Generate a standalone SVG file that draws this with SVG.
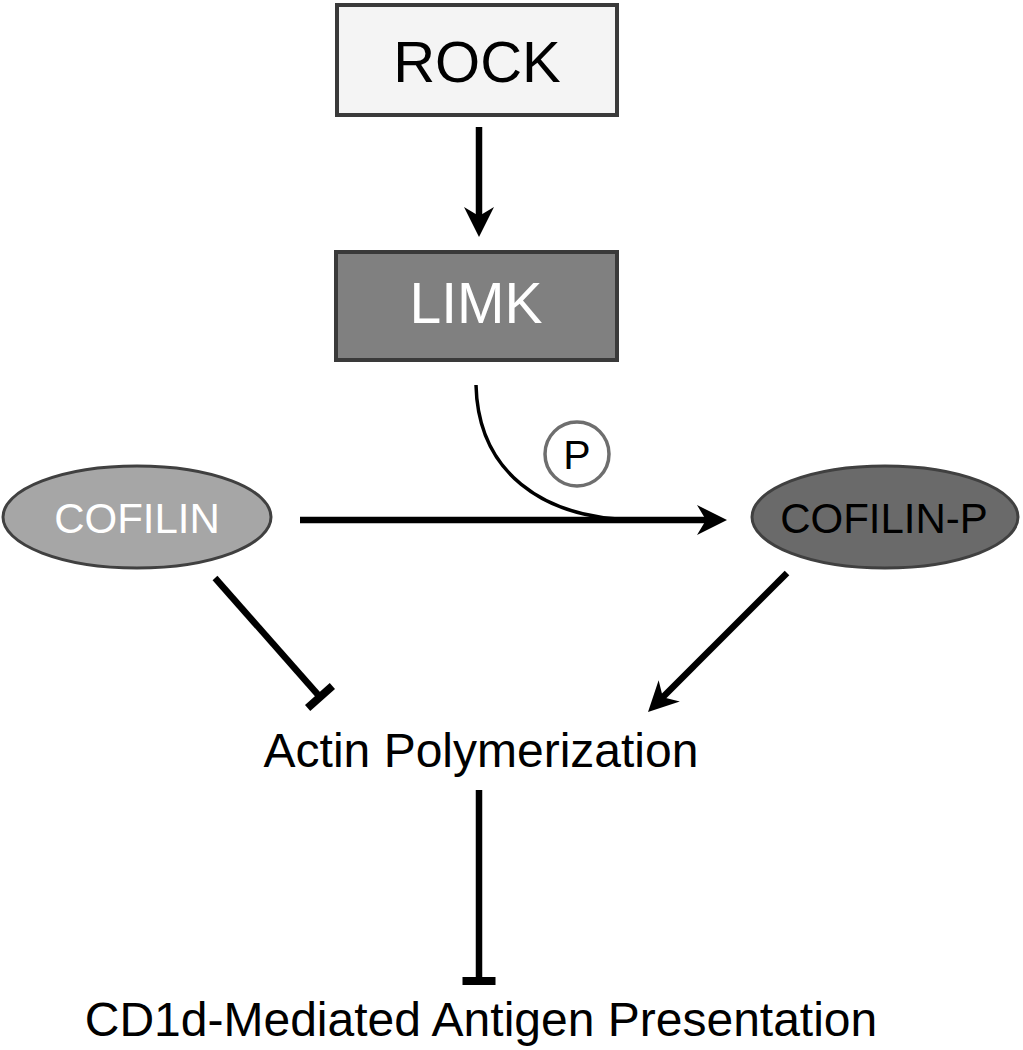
<svg xmlns="http://www.w3.org/2000/svg" width="1023" height="1050" viewBox="0 0 1023 1050">
<style>
  text { font-family: "Liberation Sans", Arial, sans-serif; text-anchor: middle; }
  .box { stroke: #3a3a3a; stroke-width: 4; }
  .ell { stroke: #404040; stroke-width: 3; }
  .edge { stroke: #000; stroke-width: 6.5; fill: none; }
</style>
<defs>
  <marker id="arr" viewBox="-32 -16 32 32" refX="-12" refY="0" markerWidth="32" markerHeight="32" markerUnits="userSpaceOnUse" orient="auto">
    <path d="M0,0 L-30,-15 L-21,0 L-30,15 Z" fill="#000"/>
  </marker>
  <marker id="tee" viewBox="-10 -20 20 40" refX="0" refY="0" markerWidth="20" markerHeight="40" markerUnits="userSpaceOnUse" orient="auto">
    <rect x="-4" y="-16.5" width="8" height="33" fill="#000"/>
  </marker>
</defs>
<rect width="1023" height="1050" fill="#fff"/>
<g id="connectors">
  <line class="edge" x1="479" y1="127" x2="479" y2="225" marker-end="url(#arr)"/>
  <line class="edge" x1="300" y1="520" x2="715" y2="520" marker-end="url(#arr)"/>
  <path d="M476,385 C478,470 540,520 640,520" stroke="#000" stroke-width="3.5" fill="none"/>
  <line class="edge" x1="215" y1="578" x2="320" y2="697" marker-end="url(#tee)"/>
  <line class="edge" x1="787" y1="573" x2="656.5" y2="703.5" marker-end="url(#arr)"/>
  <line class="edge" stroke-width="7" x1="479" y1="790" x2="479" y2="981" marker-end="url(#tee)"/>
</g>
<g id="rock">
  <rect class="box" x="337" y="5" width="280" height="110" fill="#f4f4f4"/>
  <text x="477" y="82" font-size="58" fill="#000">ROCK</text>
</g>
<g id="limk">
  <rect class="box" x="336" y="252" width="281" height="108" fill="#808080"/>
  <text x="476" y="323" font-size="57" fill="#fff">LIMK</text>
</g>
<g id="phospho">
  <circle cx="577" cy="454" r="32" fill="#fff" stroke="#6e6e6e" stroke-width="3.5"/>
  <text x="577" y="469" font-size="41" fill="#000">P</text>
</g>
<g id="cofilin">
  <ellipse class="ell" cx="137" cy="517" rx="134" ry="51" fill="#a6a6a6"/>
  <text x="137" y="533" font-size="42" fill="#fff">COFILIN</text>
</g>
<g id="cofilin-p">
  <ellipse class="ell" cx="885" cy="517" rx="133" ry="51" fill="#6a6a6a"/>
  <text x="884" y="533" font-size="42" fill="#000">COFILIN-P</text>
</g>
<g id="actin">
  <text x="481" y="767" font-size="48" fill="#000">Actin Polymerization</text>
</g>
<g id="cd1d">
  <text x="481" y="1036" font-size="48" fill="#000">CD1d-Mediated Antigen Presentation</text>
</g>
</svg>
